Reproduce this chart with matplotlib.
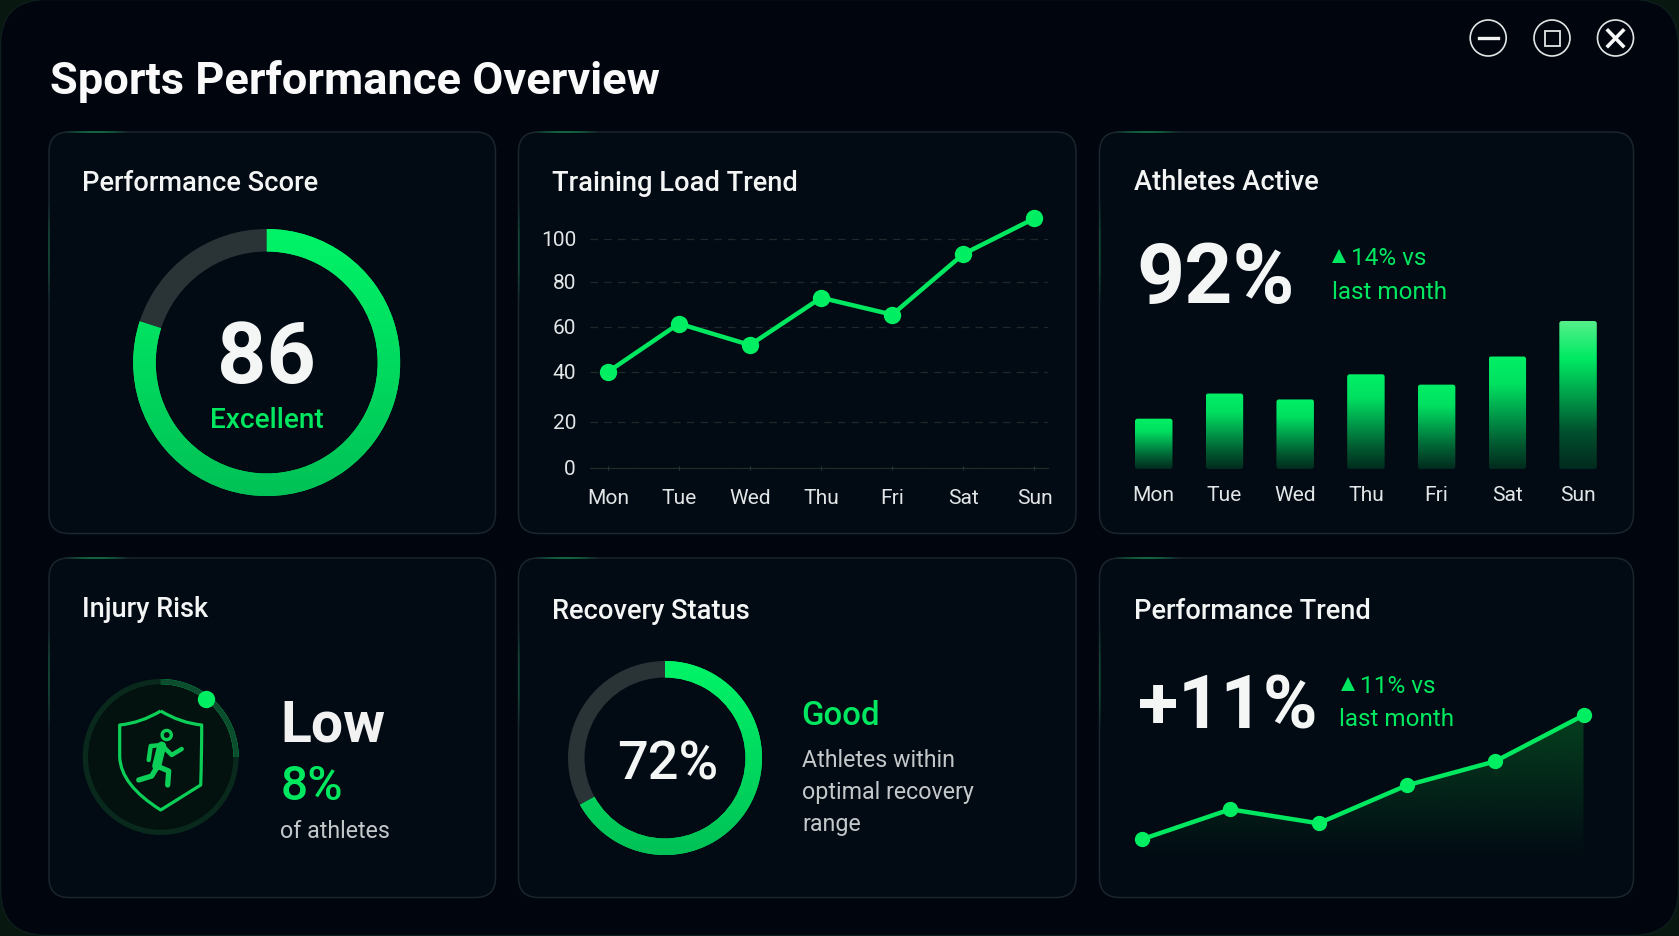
import numpy as np
import matplotlib
matplotlib.use('Agg')
import matplotlib.pyplot as plt
from matplotlib.colors import LinearSegmentedColormap, to_rgba
from matplotlib.patches import FancyBboxPatch, Circle, Rectangle, PathPatch
from matplotlib.path import Path
from matplotlib.transforms import Affine2D, ScaledTranslation

plt.rcParams['font.family'] = ['Roboto', 'DejaVu Sans']

# data
days = ['Mon', 'Tue', 'Wed', 'Thu', 'Fri', 'Sat', 'Sun']
load_ticks = [0, 20, 40, 60, 80, 100]
training_load = [40, 61.5, 52, 73, 65.5, 93, 109.6]
athletes_active = [34, 51, 47, 64, 57, 76, 100]
performance_trend = [20, 50, 36, 74, 98, 144]
score_ring = [80, 20]
recovery_ring = [67, 33]
risk_ring = [25, 75]
risk_dot = 0.105

W, H, DPI = 1679, 937, 100
GREEN = '#00E85F'
BRIGHT = '#00EE62'
WHITE = '#F4F5F5'
SOFT = '#C4C8CA'
TICK = '#E2E5E6'
ICON = '#0CCF58'

fig = plt.figure(figsize=(W / DPI, H / DPI), dpi=DPI, facecolor='#08170F')

# whole figure in pixels, y going down
bg = fig.add_axes([0, 0, 1, 1], zorder=0)
bg.set_xlim(0, W)
bg.set_ylim(H, 0)
bg.axis('off')


def px_axes(x0, y0, x1, y1):
    ax = fig.add_axes([x0 / W, 1 - y1 / H, (x1 - x0) / W, (y1 - y0) / H], zorder=2)
    ax.patch.set_alpha(0)
    return ax


def label(x, y, s, px, color=WHITE, weight='normal', ha='left'):
    bg.text(x, y, s, fontsize=px * 72 / DPI, color=color, fontweight=weight,
            ha=ha, va='baseline', zorder=6)


def rounded(x0, y0, x1, y1, r, **kw):
    box = FancyBboxPatch((x0 + r, y0 + r), x1 - x0 - 2 * r, y1 - y0 - 2 * r,
                         boxstyle='round,pad=%f,rounding_size=%f' % (r, r), **kw)
    bg.add_patch(box)
    return box


def glow(x0, y0, x1, y1, peak, n=24):
    # short green highlight that fades along a card edge
    xs = np.linspace(x0, x1, n + 1)
    ys = np.linspace(y0, y1, n + 1)
    for i in range(n):
        a = peak * np.sin(np.pi * (i + 0.5) / n)
        bg.plot(xs[i:i + 2], ys[i:i + 2], color='#10B860', alpha=a, lw=1.1, zorder=3,
                solid_capstyle='butt')


def card(x0, y0, x1, y1):
    rounded(x0, y0, x1, y1, 20, facecolor='#020A13', edgecolor='#1A252E', lw=1.1, zorder=2)
    glow(x0 + 15, y0, x0 + 80, y0, 0.6)
    glow(x0, y0 + 70, x0, y0 + 170, 0.3)


def vgrad(ax, patch, colors, extent):
    cmap = LinearSegmentedColormap.from_list('g', colors)
    grad = np.linspace(0, 1, 256).reshape(-1, 1)
    im = ax.imshow(grad, cmap=cmap, extent=extent, origin='upper', aspect='auto',
                   vmin=0, vmax=1, zorder=patch.get_zorder() + 1, interpolation='bilinear')
    im.set_clip_path(patch)
    return im


def ring(cx, cy, r_out, r_in, values, track, colors):
    ax = px_axes(cx - r_out, cy - r_out, cx + r_out, cy + r_out)
    wedges, _ = ax.pie(values, startangle=90, counterclock=False, radius=1,
                       colors=[GREEN, track],
                       wedgeprops=dict(width=(r_out - r_in) / r_out, linewidth=0))
    if colors:
        vgrad(ax, wedges[0], colors, (-1, 1, -1, 1))
    ax.set_xlim(-1, 1)
    ax.set_ylim(-1, 1)
    ax.set_aspect('equal')
    ax.axis('off')
    return ax


# window
rounded(0.5, 0.5, W - 0.5, H - 0.5, 46, facecolor='#01060E', edgecolor='#0E1E1C', lw=1, zorder=1)

label(50, 93.7, 'Sports Performance Overview', 45.3, '#FAFAFA', 'bold')

# window buttons
for cx in (1488.2, 1552, 1615.5):
    bg.add_patch(Circle((cx, 39), 18, fill=False, ec='#E4E6E6', lw=1.2, zorder=5))
bg.plot([1479, 1497.5], [39, 39], color='#F2F2F2', lw=2.4, zorder=5)
bg.add_patch(Rectangle((1544.5, 31.5), 15, 15, fill=False, ec='#E4E6E6', lw=1.3, zorder=5))
bg.plot([1608, 1623], [31.5, 47], color='#F8F8F8', lw=2.6, zorder=5)
bg.plot([1608, 1623], [47, 31.5], color='#F8F8F8', lw=2.6, zorder=5)

# cards
TOP1, BOT1, TOP2, BOT2 = 133, 534.5, 559, 898.5
card(49, TOP1, 495.5, BOT1)
card(518.5, TOP1, 1076, BOT1)
card(1099.5, TOP1, 1633.5, BOT1)
card(49, TOP2, 495.5, BOT2)
card(518.5, TOP2, 1076, BOT2)
card(1099.5, TOP2, 1633.5, BOT2)

# card titles
label(81.5, 191, 'Performance Score', 27.3, WHITE, 'medium')
label(552, 191, 'Training Load Trend', 27.3, WHITE, 'medium')
label(1134, 190.5, 'Athletes Active', 27.3, WHITE, 'medium')
label(81.5, 617.5, 'Injury Risk', 27.3, WHITE, 'medium')
label(552, 619, 'Recovery Status', 27.3, WHITE, 'medium')
label(1134, 619, 'Performance Trend', 27.3, WHITE, 'medium')

# performance score
ring(266.7, 363.5, 133.5, 111, score_ring, '#2A3437', ['#00F468', '#00C156'])
label(266.5, 383, '86', 86, WHITE, 'bold', ha='center')
label(267, 427.7, 'Excellent', 28, GREEN, 'medium', ha='center')

# training load
lx = px_axes(590, 197, 1048, 469)
stops_v = [0, 20, 40, 60, 80, 100, 120]
stops_p = [0, 45.6, 96, 141, 186, 229, 272]
lx.set_yscale('function', functions=(lambda v: np.interp(v, stops_v, stops_p),
                                     lambda p: np.interp(p, stops_p, stops_v)))
lx.plot(range(7), training_load, color=GREEN, lw=3.2, marker='o', ms=11.5,
        mfc=BRIGHT, mec=BRIGHT, clip_on=False, zorder=4)
lx.set_xlim(-0.25, 6.19)
lx.set_ylim(0, 120)
lx.set_xticks(range(7), days)
lx.set_yticks(load_ticks, [str(v) for v in load_ticks])
lx.minorticks_off()
lx.grid(axis='y', color='#1B2A2A', lw=0.9, ls=(0, (6, 5)))
lx.set_axisbelow(True)
for side in ('top', 'right', 'left'):
    lx.spines[side].set_visible(False)
lx.spines['bottom'].set_color('#1E2F2C')
lx.tick_params(axis='x', length=3, width=0.8, color='#2A3B38', direction='inout', pad=13.2,
               labelcolor=TICK, labelsize=21 * 72 / DPI)
lx.tick_params(axis='y', length=0, pad=10, labelcolor=TICK, labelsize=21 * 72 / DPI)
for t in lx.get_yticklabels():
    t.set_transform(t.get_transform() + ScaledTranslation(0, 1.5 / DPI, fig.dpi_scale_trans))

# athletes active
label(1136, 303, '92%', 84, WHITE, 'bold')
label(1351, 265, '14% vs', 24.3, GREEN)
label(1332, 299, 'last month', 24.3, GREEN)
bg.plot([1339], [257], marker='^', ms=10, color=GREEN, mew=0, zorder=6)

bx = px_axes(1135, 322, 1596.8, 470)
bars = bx.bar(range(7), athletes_active, width=0.53, color='none', linewidth=0)
for bar, value in zip(bars, athletes_active):
    x0 = bar.get_x()
    shades = ['#00F066', '#00E060', '#00A04C', '#016033', '#022A1E']
    if value == max(athletes_active):
        shades = ['#55F08A', '#00EA64', '#00A04A', '#01502E', '#022A1E']
    # small rounded corners on the gradient
    clip = FancyBboxPatch((x0, 0), bar.get_width(), value, fc='none', ec='none',
                          boxstyle='round,pad=0,rounding_size=0.035', mutation_aspect=47.8)
    bx.add_patch(clip)
    vgrad(bx, clip, shades, (x0, x0 + bar.get_width(), 0, value))
bx.set_xlim(-0.265, 6.265)
bx.set_ylim(0, 100)
bx.set_xticks(range(7), days)
bx.set_yticks([])
for side in bx.spines.values():
    side.set_visible(False)
bx.tick_params(axis='x', length=0, pad=11.3, labelcolor=TICK, labelsize=21 * 72 / DPI)

# injury risk
bg.add_patch(Circle((160.7, 758), 75, fc='#03110F', ec='none', zorder=3))
rx = ring(160.7, 758, 78, 72.7, risk_ring, '#08291C', ['#0C4D2E', '#0C4D2E'])
a = 2 * np.pi * risk_dot
rx.plot([np.sin(a) * 73.5 / 78], [np.cos(a) * 73.5 / 78], marker='o', ms=12.5,
        color=BRIGHT, mew=0, clip_on=False, zorder=7)

# shield and runner, icon drawn around the circle centre
sx, sy = 160.7, 758
shield = Path([(0, -46), (20, -34), (41, -32), (41, -32), (41, 0), (40, 28), (0, 53), (0, 53),
               (-40, 28), (-41, 0), (-41, -32), (-41, -32), (-20, -34), (0, -46)],
              [Path.MOVETO, Path.CURVE3, Path.CURVE3, Path.LINETO, Path.CURVE3, Path.CURVE3,
               Path.LINETO, Path.LINETO, Path.CURVE3, Path.CURVE3, Path.LINETO, Path.LINETO,
               Path.CURVE3, Path.CURVE3])
bg.add_patch(PathPatch(shield.transformed(Affine2D().translate(sx, sy)),
                       fill=False, ec=ICON, lw=2.3, joinstyle='round', zorder=6))
bg.add_patch(Circle((sx + 6, sy - 22), 4.6, fill=False, ec=ICON, lw=2.4, zorder=6))
strokes = [([1, -4], [-11, 9], 6.5),
           ([-12, -10, 1], [3, -11, -12], 3.2),
           ([3, 11, 21], [-10, -2, -8], 3.2),
           ([-4, 8, 7], [9, 14, 28], 3.8),
           ([-3, -9, -22], [9, 19, 23], 3.8)]
for xs, ys, w in strokes:
    bg.plot(np.array(xs) + sx, np.array(ys) + sy, color=ICON, lw=w, zorder=6,
            solid_capstyle='round', solid_joinstyle='round')

label(280.5, 741.7, 'Low', 57, '#F2F2F2', 'bold')
label(280.5, 800, '8%', 48, GREEN, 'medium')
label(280.5, 838.3, 'of athletes', 23.2, SOFT)

# recovery
ring(665, 759, 97, 80.5, recovery_ring, '#2A3437', ['#00F468', '#00C156'])
label(667.5, 780, '72%', 54, WHITE, 'medium', ha='center')
label(801, 725, 'Good', 33, GREEN, 'medium')
label(802, 766.7, 'Athletes within', 23.3, SOFT)
label(802, 799, 'optimal recovery', 23.3, SOFT)
label(802, 831, 'range', 23.3, SOFT)

# performance trend
label(1138, 729, '+11%', 74, WHITE, 'bold')
label(1360, 693.3, '11% vs', 24.3, GREEN)
label(1339, 726, 'last month', 24.3, GREEN)
bg.plot([1347.5], [685], marker='^', ms=10, color=GREEN, mew=0, zorder=6)

tx = px_axes(1142, 716, 1583.5, 860.3)
xs = np.arange(len(performance_trend))
area = tx.fill_between(xs, performance_trend, 0, color='none', linewidth=0)
cmap = LinearSegmentedColormap.from_list('fade', [to_rgba('#05401F', 1), to_rgba('#05401F', 0)])
im = tx.imshow(np.linspace(0, 1, 256).reshape(-1, 1), cmap=cmap, aspect='auto', origin='upper',
               extent=(0, 5, 0, max(performance_trend)), zorder=1)
im.set_clip_path(area.get_paths()[0], tx.transData)
tx.plot(xs, performance_trend, color=GREEN, lw=3.2, marker='o', ms=10, mfc=BRIGHT, mec=BRIGHT,
        clip_on=False, zorder=4)
tx.set_xlim(0, 5)
tx.set_ylim(0, 144.3)
tx.axis('off')

fig.savefig('out.png', dpi=DPI, facecolor=fig.get_facecolor())
